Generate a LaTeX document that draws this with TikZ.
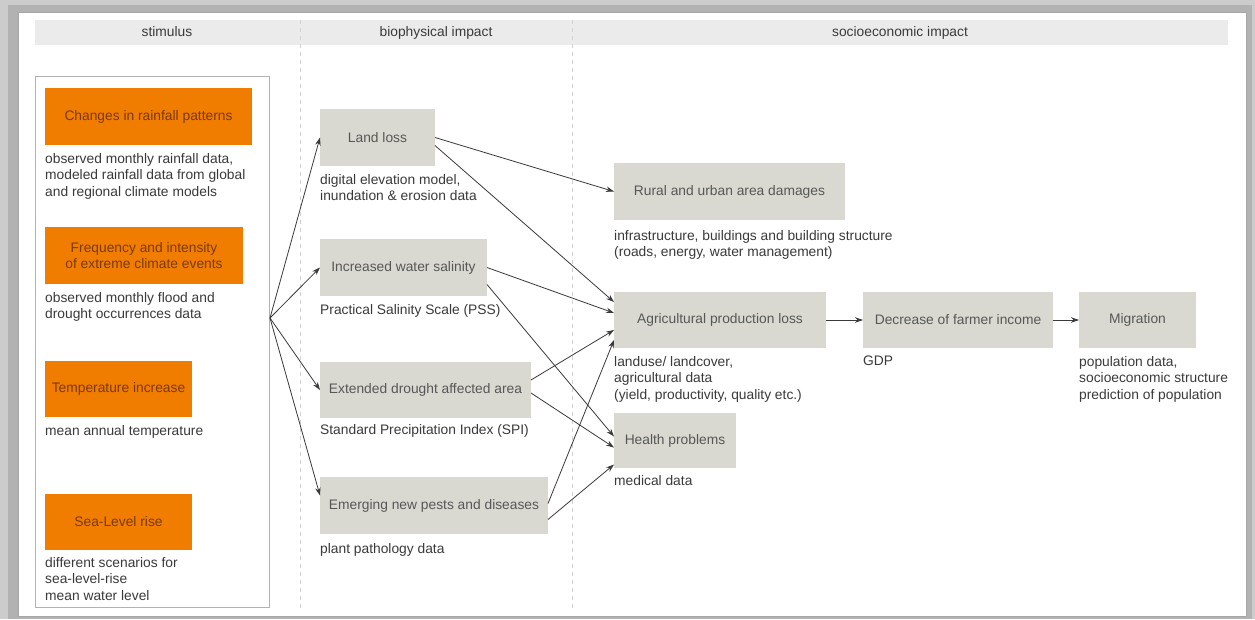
\documentclass[tikz,border=0pt]{standalone}
\usepackage{fontspec}
\setmainfont{Liberation Sans}
\usepackage{tikz}
\usepackage{xcolor}
\usetikzlibrary{arrows.meta, positioning}
\definecolor{Stim_Orange}{HTML}{F07C00}
\definecolor{Stim_Text}{HTML}{7A3A0A}
\definecolor{Box_Gray}{HTML}{D9D9D2}
\definecolor{Band_Gray}{HTML}{EBEBEB}
\definecolor{Ink_Gray}{HTML}{3A3A3A}

\begin{document}
\begin{tikzpicture}[x=1pt, y=-1pt,
    every node/.style={font=\fontsize{13.8}{16.5}\selectfont, text=Ink_Gray},
    header/.style={text height=10pt, text depth=3pt, inner sep=0pt},
    stimbox/.style={fill=Stim_Orange, text=Stim_Text, anchor=north west, inner sep=0pt, outer sep=0pt, align=center},
    impbox/.style={fill=Box_Gray, text=Ink_Gray!85, anchor=north west, inner sep=0pt, outer sep=0pt, align=center},
    note/.style={anchor=north west, inner sep=0pt, align=left},
    link/.style={draw=Ink_Gray, line width=0.8pt, -{Stealth[length=8pt, width=5.5pt]}}
]
    \useasboundingbox (0,0) rectangle (1255,619);

    % Shadowed frame
    \fill[gray!40] (0,0) rectangle (1255,619);
    \fill[gray!60] (8,5) rectangle (1252,619);
    \filldraw[fill=white, draw=gray!70] (18,12) rectangle (1246,616);

    % Header band and column separators
    \fill[Band_Gray] (35,20) rectangle (1228,45);
    \foreach \x in {300, 572} {
        \draw[gray!35, line width=1pt, dash pattern=on 4pt off 4pt] (\x,20) -- (\x,612);
    }
    \node[header] (hStim) at (167,33) {stimulus};
    \node[header] (hBio) at (436,33) {biophysical impact};
    \node[header] (hSocio) at (900,33) {socioeconomic impact};

    % Stimulus column
    \draw[gray!60] (35,76) rectangle (269,607);
    \coordinate (fan) at (270,318);

    \node[stimbox, minimum width=207pt, minimum height=57pt] (rain) at (45,88) {Changes in rainfall patterns};
    \node[below=8pt of rain.south west, note] (rainData) {observed monthly rainfall data,\\modeled rainfall data from global\\and regional climate models};

    \node[stimbox, minimum width=198pt, minimum height=57pt] (extreme) at (45,227) {Frequency and intensity\\of extreme climate events};
    \node[below=8pt of extreme.south west, note] (extremeData) {observed monthly flood and\\drought occurrences data};

    \node[stimbox, minimum width=147pt, minimum height=56pt] (temp) at (45,361) {Temperature increase};
    \node[below=8pt of temp.south west, note] (tempData) {mean annual temperature};

    \node[stimbox, minimum width=147pt, minimum height=56pt] (sea) at (45,494) {Sea-Level rise};
    \node[below=7pt of sea.south west, note] (seaData) {different scenarios for\\sea-level-rise\\mean water level};

    % Biophysical impact column
    \node[impbox, minimum width=115pt, minimum height=57pt] (land) at (320,109) {Land loss};
    \node[below=8pt of land.south west, note] (landData) {digital elevation model,\\inundation \& erosion data};

    \node[impbox, minimum width=167pt, minimum height=57pt] (salt) at (320,239) {Increased water salinity};
    \node[below=8pt of salt.south west, note] (saltData) {Practical Salinity Scale (PSS)};

    \node[impbox, minimum width=211pt, minimum height=56pt] (drought) at (320,362) {Extended drought affected area};
    \node[below=6pt of drought.south west, note] (droughtData) {Standard Precipitation Index (SPI)};

    \node[impbox, minimum width=228pt, minimum height=57pt] (pests) at (320,477) {Emerging new pests and diseases};
    \node[below=9pt of pests.south west, note] (pestsData) {plant pathology data};

    % Socioeconomic impact column
    \node[impbox, minimum width=231pt, minimum height=57pt] (rural) at (614,163) {Rural and urban area damages};
    \node[below=10pt of rural.south west, note] (ruralData) {infrastructure, buildings and building structure\\(roads, energy, water management)};

    \node[impbox, minimum width=212pt, minimum height=56pt] (agri) at (614,292) {Agricultural production loss};
    \node[below=8pt of agri.south west, note] (agriData) {landuse/ landcover,\\agricultural data\\(yield, productivity, quality etc.)};

    \node[impbox, minimum width=122pt, minimum height=55pt] (health) at (614,413) {Health problems};
    \node[below=7pt of health.south west, note] (healthData) {medical data};

    \node[impbox, minimum width=190pt, minimum height=56pt] (income) at (863,292) {Decrease of farmer income};
    \node[below=8pt of income.south west, note] (incomeData) {GDP};

    \node[impbox, minimum width=117pt, minimum height=56pt] (migr) at (1079,292) {Migration};
    \node[below=8pt of migr.south west, note] (migrData) {population data,\\socioeconomic structure\\prediction of population};

    % Stimulus fan
    \draw[link] (fan) -- (land.west);
    \draw[link] (fan) -- (salt.west);
    \draw[link] (fan) -- (drought.west);
    \draw[link] (fan) -- ([yshift=10pt]pests.west);

    % Biophysical to socioeconomic
    \draw[link] (land.east) -- (rural.west);
    \draw[link] ([yshift=-8pt]land.east) -- ([yshift=18pt]agri.west);
    \draw[link] (salt.east) -- ([yshift=7pt]agri.west);
    \draw[link] ([yshift=-17pt]salt.east) -- ([yshift=4pt]health.west);
    \draw[link] ([yshift=10pt]drought.east) -- ([yshift=-10pt]agri.west);
    \draw[link] ([yshift=-3pt]drought.east) -- ([yshift=-7pt]health.west);
    \draw[link] ([yshift=2pt]pests.east) -- ([yshift=-20pt]agri.west);
    \draw[link] ([yshift=-14pt]pests.east) -- ([yshift=-24pt]health.west);

    % Chain to migration
    \draw[link] (agri.east) -- (income.west);
    \draw[link] (income.east) -- (migr.west);
\end{tikzpicture}
\end{document}
